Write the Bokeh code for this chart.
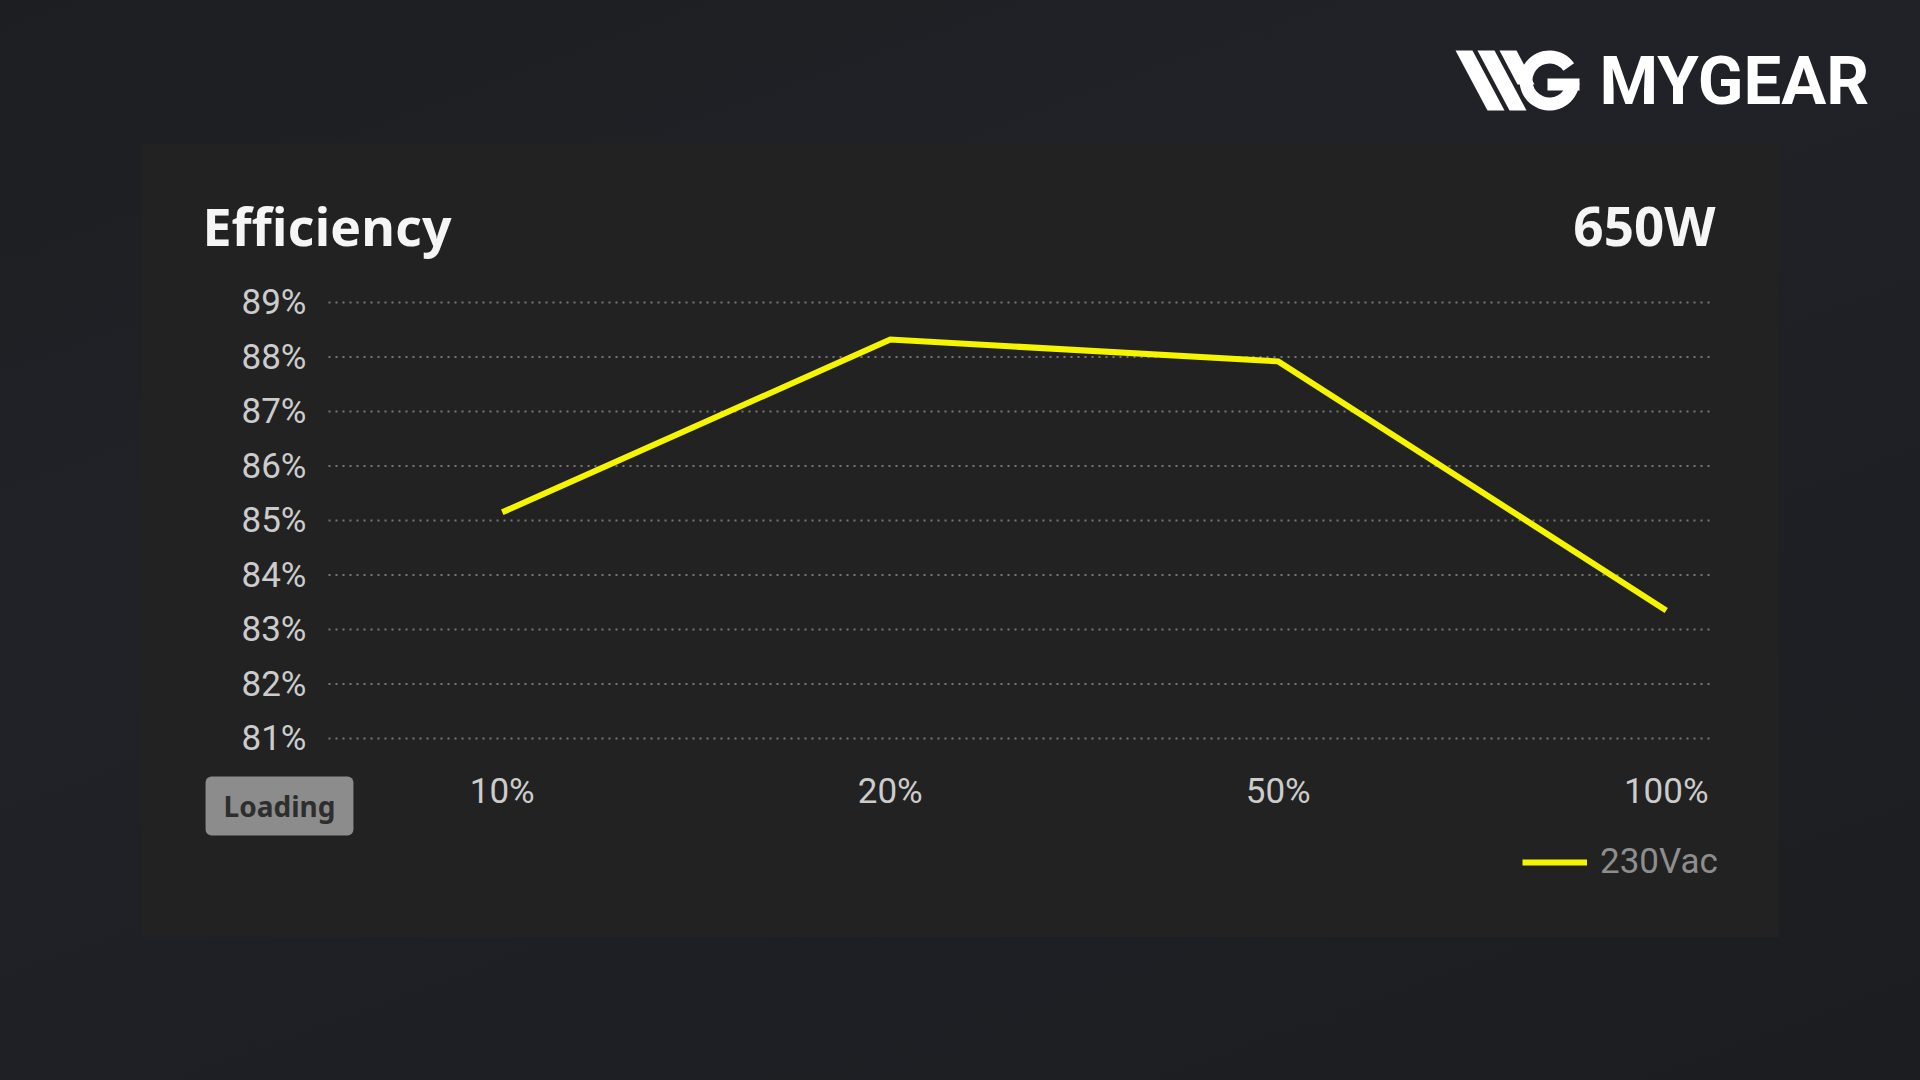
from bokeh.plotting import figure
from bokeh.models import Range1d, FixedTicker, PrintfTickFormatter, Label, Legend, LegendItem, Spacer
from bokeh.layouts import row, column
from bokeh.embed import file_html
from bokeh.resources import INLINE
from bokeh.core.properties import value

# ---- data ----
load_labels = ["10%", "20%", "50%", "100%"]
efficiency = [85.15, 88.32, 87.92, 83.35]
y_ticks = [81, 82, 83, 84, 85, 86, 87, 88, 89]
series_name = "230Vac"
title_text = "Efficiency"
wattage_text = "650W"
loading_text = "Loading"
brand_text = "MYGEAR"

PANEL_BG = "#222222"
YELLOW = "#f5f500"

x_pos = list(range(len(load_labels)))

# ---- panel geometry (pixels inside the 1638x794 panel) ----
PW, PH = 1638, 794
PX_PER_X = 388.0          # pixels per category step
X_ORIGIN = 360.75         # pixel x of the first category
PX_PER_Y = 54.5           # pixels per 1 %
Y_TOP_PX = 159.0          # pixel y (from top) of the 89 % line

def dx(px):
    return (px - X_ORIGIN) / PX_PER_X

def dy(py):
    return 89 - (py - Y_TOP_PX) / PX_PER_Y

X0, X1 = dx(0), dx(PW)
Y0, Y1 = dy(PH), dy(0)
GX0, GX1 = dx(187), dx(1570)      # horizontal extent of the grid lines
AXIS_Y = dy(601)                  # where the category labels hang from
HEAD_Y = dy(153)

p = figure(width=PW, height=PH, output_backend="svg", toolbar_location=None,
           x_range=Range1d(X0, X1), y_range=Range1d(Y0, Y1), min_border=0)
p.background_fill_color = PANEL_BG
p.border_fill_color = PANEL_BG
p.outline_line_color = None
p.grid.visible = False

# dotted horizontal grid lines at every tick
p.segment(x0=[GX0] * len(y_ticks), x1=[GX1] * len(y_ticks), y0=y_ticks, y1=y_ticks,
          line_color="#767676", line_width=2, line_dash="2 5")

p.yaxis.ticker = FixedTicker(ticks=y_ticks)
p.yaxis.formatter = PrintfTickFormatter(format="%d%%")
p.yaxis.fixed_location = GX0
p.xaxis.ticker = FixedTicker(ticks=x_pos)
p.xaxis.major_label_overrides = {i: lab for i, lab in zip(x_pos, load_labels)}
p.xaxis.fixed_location = AXIS_Y
for ax in (p.xaxis[0], p.yaxis[0]):
    ax.axis_line_color = None
    ax.major_tick_line_color = None
    ax.minor_tick_line_color = None
    ax.major_tick_in = 0
    ax.major_tick_out = 0
    ax.major_label_text_font = "Roboto"
    ax.major_label_text_font_size = "35px"
    ax.major_label_text_color = "#cccccc"
p.yaxis.major_label_standoff = 22
p.xaxis.major_label_standoff = 26

r = p.line(x_pos, efficiency, line_color=YELLOW, line_width=6, line_join="miter")

legend = Legend(items=[LegendItem(label=series_name, renderers=[r])],
                location=(1381, 55), glyph_width=65, glyph_height=40,
                label_standoff=13, padding=0, margin=0, spacing=0,
                background_fill_alpha=0, border_line_color=None,
                label_text_font="Roboto", label_text_font_size="35px",
                label_text_color="#8e8e8e")
p.add_layout(legend)

p.add_layout(Label(x=GX0, y=HEAD_Y, x_offset=-126, y_offset=71, text=title_text,
                   text_font="Open Sans", text_font_style="bold", text_font_size="52px",
                   text_color="#f5f5f5", text_baseline="alphabetic", text_align="left"))
p.add_layout(Label(x=GX1, y=HEAD_Y, x_offset=4, y_offset=71, text=wattage_text,
                   text_font="Open Sans", text_font_style="bold", text_font_size="53px",
                   text_color="#f5f5f5", text_baseline="alphabetic", text_align="right"))
p.add_layout(Label(x=GX0, y=AXIS_Y, x_offset=-49, y_offset=-61.5, text=loading_text,
                   text_font="Noto Sans", text_font_style="bold", text_font_size="28px",
                   text_color="#2e2e2e", text_align="center", text_baseline="middle",
                   background_fill_color="#8c8c8c",
                   padding=dict(left=18, right=18, top=10, bottom=11), border_radius=6))

# ---- logo ----
LW, LH = 467, 143
logo = figure(width=LW, height=LH, output_backend="svg", toolbar_location=None,
              x_range=Range1d(0, LW), y_range=Range1d(0, LH), min_border=0,
              x_axis_location=None, y_axis_location=None)
logo.grid.visible = False
logo.outline_line_color = None
logo.background_fill_alpha = 0
logo.border_fill_alpha = 0
logo.patches(xs=[[2, 19, 51, 34], [24, 41, 73, 56], [46, 63, 81, 64]],
             ys=[[93, 93, 33, 33], [93, 93, 33, 33], [93, 93, 59, 59]],
             fill_color="white", line_color=None)
logo.annular_wedge(x=[96], y=[63], inner_radius=17, outer_radius=30,
                   start_angle=35, end_angle=355, start_angle_units="deg", end_angle_units="deg",
                   fill_color="white", line_color=None)
logo.quad(left=[94], right=[126], bottom=[53], top=[65], fill_color="white", line_color=None)
logo.text(x=[146], y=[63], text=[brand_text], text_font=value("Roboto"), text_font_style="bold",
          text_font_size="67px", text_color="white", text_baseline="middle")

layout = column(
    row(Spacer(width=1920 - LW, height=LH), logo),
    row(Spacer(width=141, height=PH), p, Spacer(width=1920 - 141 - PW, height=PH)),
    Spacer(width=1920, height=1080 - LH - PH),
    styles={"background": "linear-gradient(160deg, #1c1e22 0%, #202227 35%, #1e2025 60%, #1b1d21 100%)"},
)

html = file_html(layout, INLINE)
html = html.replace("</head>",
                    "<style>html, body {margin: 0; padding: 0; overflow: hidden; background-color: #1e2025;}</style></head>", 1)
open("out.html", "w").write(html)
